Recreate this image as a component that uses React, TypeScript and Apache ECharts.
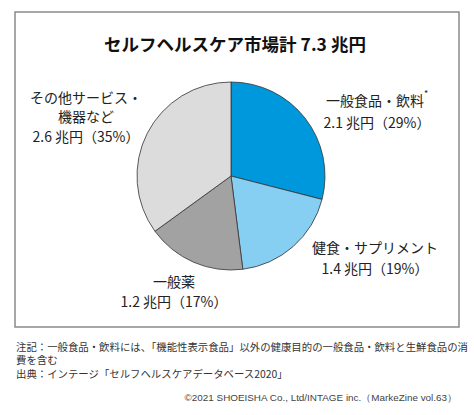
import React, { useEffect, useRef } from "react";
import * as echarts from "echarts";

const titleText = "セルフヘルスケア市場計 7.3 兆円";
const categories = ["一般食品・飲料", "健食・サプリメント", "一般薬", "その他サービス・\n機器など"];
const amounts = [2.1, 1.4, 1.2, 2.6]; // 兆円
const shares = [29, 19, 17, 35]; // %
const starred = [true, false, false, false];
const noteLines = [
  "注記：一般食品・飲料には、「機能性表示食品」以外の健康目的の一般食品・飲料と生鮮食品の消",
  "費を含む",
  "出典：インテージ「セルフヘルスケアデータベース2020」",
];
const copyright = "©2021 SHOEISHA Co., Ltd/INTAGE inc.（MarkeZine vol.63）";

const colors = ["#0098DC", "#86CEF2", "#A2A2A2", "#DCDCDC"];
const labelPos = [
  { x: 377, y: 111, lh: 22 },
  { x: 375, y: 257, lh: 21 },
  { x: 174, y: 291, lh: 20 },
  { x: 86, y: 116, lh: 19.5 },
];

const JP = '"Noto Sans CJK JP", "Noto Sans", sans-serif';

export default function App() {
  const ref = useRef<HTMLDivElement>(null);
  useEffect(() => {
    document.body.style.margin = "0";
    const chart = echarts.init(ref.current!, null, { renderer: "svg" });
    const data = categories.map((name, i) => ({
      name,
      value: shares[i],
      itemStyle: { color: colors[i] },
      label: {
        lineHeight: labelPos[i].lh,
        rich: {
          t: { fontSize: 14, lineHeight: labelPos[i].lh, color: "#222", fontFamily: JP },
          s: { fontSize: 9, lineHeight: labelPos[i].lh, color: "#222", verticalAlign: "top", padding: [0, 0, 2, 0], fontFamily: JP },
        },
      },
    }));
    chart.setOption({
      animation: false,
      series: [
        {
          type: "pie",
          center: [231, 176],
          radius: 94,
          startAngle: 90,
          clockwise: true,
          data,
          itemStyle: { borderColor: "#333", borderWidth: 0.8 },
          label: {
            show: true,
            position: "outside",
            align: "center",
            overflow: "none",
            fontFamily: JP,
            fontSize: 14,
            color: "#222",
            formatter: (p: any) => {
              const i = p.dataIndex;
              const nameLines = categories[i].split("\n").map((l, k, arr) =>
                k === arr.length - 1 && starred[i] ? `{t|${l}}{s|*}` : `{t|${l}}`
              );
              return [...nameLines, `{t|${amounts[i]} 兆円（${shares[i]}%）}`].join("\n");
            },
          },
          labelLine: { show: false },
          labelLayout: (params: any) => {
            const p = labelPos[params.dataIndex];
            return { x: p.x, y: p.y, align: "center", verticalAlign: "middle", hideOverlap: false };
          },
          emphasis: { disabled: true },
        },
      ],
      graphic: [
        {
          type: "rect",
          shape: { x: 15, y: 12, width: 444, height: 315 },
          style: { fill: "none", stroke: "#8a8a8a", lineWidth: 1.5 },
          silent: true,
        },
        {
          type: "text",
          x: 235,
          y: 43,
          style: {
            text: titleText,
            fontFamily: JP,
            fontSize: 17.5,
            fontWeight: "bold",
            fill: "#111",
            align: "center",
            verticalAlign: "middle",
          },
        },
        ...noteLines.map((t, i) => ({
          type: "text",
          x: 16,
          y: 346 + i * 13.5,
          style: {
            text: t,
            fontFamily: JP,
            fontSize: 10.4,
            fill: "#333",
            align: "left",
            verticalAlign: "middle",
          },
        })),
        {
          type: "text",
          x: 457,
          y: 397,
          style: {
            text: copyright,
            fontFamily: '"Liberation Sans", Arial, sans-serif',
            fontSize: 9.9,
            fill: "#444",
            align: "right",
            verticalAlign: "middle",
          },
        },
      ],
    });
    return () => chart.dispose();
  }, []);
  return <div ref={ref} style={{ width: 474, height: 415 }} />;
}
